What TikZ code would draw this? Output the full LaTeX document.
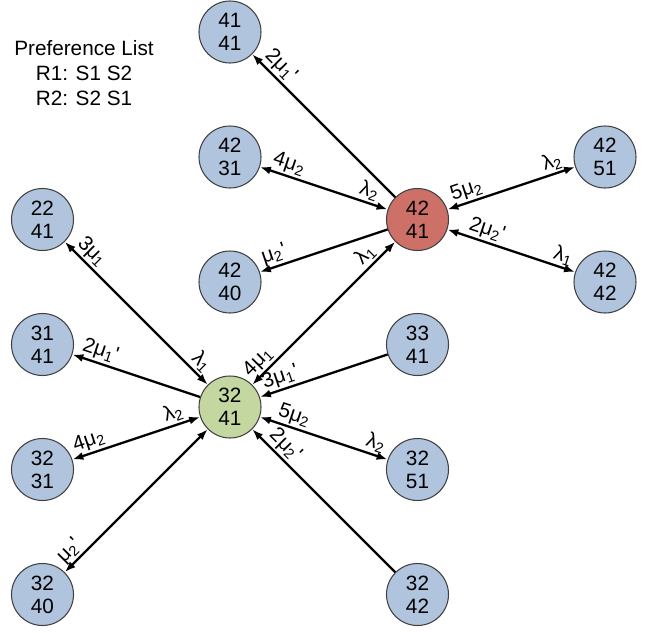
\documentclass[tikz,border=0pt]{standalone}
\usepackage{fontspec}
\setmainfont{Liberation Sans}
\usetikzlibrary{positioning,arrows.meta}

\definecolor{stateblue}{RGB}{176,196,222}
\definecolor{statered}{RGB}{205,113,104}
\definecolor{stategreen}{RGB}{197,215,160}

\begin{document}
\begin{tikzpicture}[on grid, >={Latex[length=2.2mm,width=1.6mm]},
    state/.style={circle, draw=black!75, line width=0.6pt, fill=stateblue, minimum size=1.24cm,
      inner sep=0pt, align=center, font=\fontsize{11.8}{13}\selectfont},
    rate/.style={sloped, above, inner sep=1pt, font=\fontsize{11.8}{13}\selectfont},
    link/.style={line width=1.3pt}]
  \useasboundingbox (0,0) rectangle (13.16,-12.64);

  \node[align=center, font=\fontsize{11.8}{14}\selectfont] (pref) at (1.68,-1.46)
    {Preference List\\R1: S1 S2\\R2: S2 S1};

  % the two busy states
  \node[state, fill=stategreen] (3241) at (4.6,-8.14) {32\\41};
  \node[state, fill=statered] (4241) [above right=3.75cm and 3.75cm of 3241] {42\\41};

  % neighbours of 42/41
  \node[state] (4141) [above left=3.75cm and 3.75cm of 4241] {41\\41};
  \node[state] (4231) [above left=1.25cm and 3.75cm of 4241] {42\\31};
  \node[state] (4240) [below left=1.25cm and 3.75cm of 4241] {42\\40};
  \node[state] (4251) [above right=1.25cm and 3.75cm of 4241] {42\\51};
  \node[state] (4242) [below right=1.25cm and 3.75cm of 4241] {42\\42};

  % neighbours of 32/41
  \node[state] (2241) [above left=3.75cm and 3.75cm of 3241] {22\\41};
  \node[state] (3141) [above left=1.25cm and 3.75cm of 3241] {31\\41};
  \node[state] (3231) [below left=1.25cm and 3.75cm of 3241] {32\\31};
  \node[state] (3240) [below left=3.75cm and 3.75cm of 3241] {32\\40};
  \node[state] (3341) [above right=1.25cm and 3.75cm of 3241] {33\\41};
  \node[state] (3251) [below right=1.25cm and 3.75cm of 3241] {32\\51};
  \node[state] (3242) [below right=3.75cm and 3.75cm of 3241] {32\\42};

  \path[->, link] (4241) edge node[rate, pos=0.86] {2μ\textsubscript{1}\textquotesingle} (4141);
  \path[<->, link] (4231) edge node[rate, pos=0.2] {4μ\textsubscript{2}}
    node[rate, pos=0.83] {λ\textsubscript{2}} (4241);
  \path[->, link] (4241) edge node[rate, pos=0.86] {μ\textsubscript{2}\textquotesingle} (4240);
  \path[<->, link] (3241) edge node[rate, pos=0.1] {4μ\textsubscript{1}}
    node[rate, pos=0.85] {λ\textsubscript{1}} (4241);
  \path[<->, link] (4241) edge node[rate, pos=0.18] {5μ\textsubscript{2}}
    node[rate, pos=0.85] {λ\textsubscript{2}} (4251);
  \path[<->, link] (4241) edge node[rate, pos=0.28] {2μ\textsubscript{2}\textquotesingle}
    node[rate, pos=0.88] {λ\textsubscript{1}} (4242);

  \path[<->, link] (3241) edge node[rate, pos=0.1] {λ\textsubscript{1}}
    node[rate, pos=0.87] {3μ\textsubscript{1}} (2241);
  \path[->, link] (3241) edge node[rate, pos=0.81] {2μ\textsubscript{1}\textquotesingle} (3141);
  \path[<->, link] (3231) edge node[rate, pos=0.16] {4μ\textsubscript{2}}
    node[rate, pos=0.82] {λ\textsubscript{2}} (3241);
  \path[<->, link] (3240) edge node[rate, pos=0.09] {μ\textsubscript{2}\textquotesingle} (3241);
  \path[->, link] (3341) edge node[rate, pos=0.81] {3μ\textsubscript{1}\textquotesingle} (3241);
  \path[<->, link] (3241) edge node[rate, pos=0.24] {5μ\textsubscript{2}}
    node[rate, pos=0.88] {λ\textsubscript{2}} (3251);
  \path[->, link] (3242) edge node[rate, pos=0.83] {2μ\textsubscript{2}\textquotesingle} (3241);
\end{tikzpicture}
\end{document}
